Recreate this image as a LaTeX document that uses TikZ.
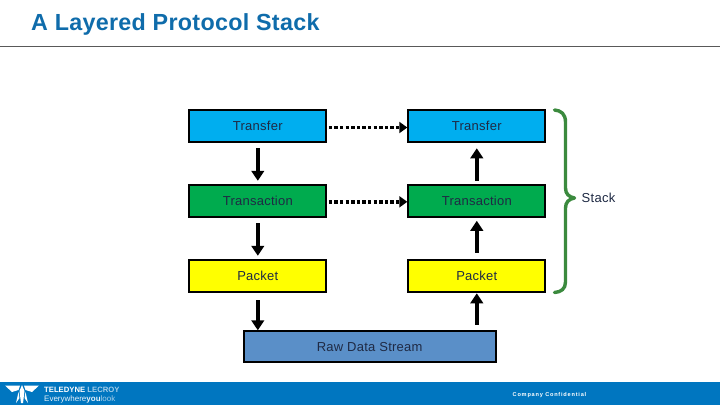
\documentclass[tikz,border=0pt]{standalone}
\usepackage{fontspec}
\setmainfont{Liberation Sans}
\newfontfamily\spaced[LetterSpace=2]{Liberation Sans}
\newfontfamily\wide[LetterSpace=14]{Liberation Sans}
\newfontfamily\titlefont[LetterSpace=1.3]{Liberation Sans}
\definecolor{cblue}{HTML}{00AEEF}
\definecolor{cgreen}{HTML}{00AB4E}
\definecolor{cyell}{HTML}{FFFF00}
\definecolor{craw}{HTML}{5A8FC8}
\definecolor{cbrace}{HTML}{3B8A3E}
\definecolor{cfoot}{HTML}{0076C0}
\definecolor{ctitle}{HTML}{0F6CAB}
\definecolor{ctext}{HTML}{1F2A44}
\usetikzlibrary{arrows.meta}
\tikzset{
  layerbox/.style={draw=black,line width=2pt,minimum width=137pt,minimum height=32pt,inner sep=0pt,font=\spaced\fontsize{13}{15}\selectfont,text=ctext,anchor=north west},
  solidarrow/.style={line width=3.8pt,-{Triangle[length=10pt,width=12.5pt]}},
  dotarrow/.style={line width=3.8pt,dash pattern=on 3.4pt off 2.2pt,-{Triangle[length=8pt,width=11pt]}},
}
\begin{document}
\begin{tikzpicture}[x=1pt,y=-1pt]
\useasboundingbox (0,0) rectangle (720,405);
\fill[white] (0,0) rectangle (720,405);
\node[anchor=base west,inner sep=0pt,text=ctitle,font=\titlefont\bfseries\fontsize{23.3}{26}\selectfont] (title) at (31,30.7) {A Layered Protocol Stack};
\coordinate (ruleL) at (0,46.3);
\coordinate (ruleR) at (720,46.3);
\draw[black!65,line width=0.9pt] (ruleL) -- (ruleR);
% layers
\node[layerbox,fill=cblue] (t1) at (188.3,109.3) {Transfer};
\node[layerbox,fill=cblue] (t2) at (407.3,109.3) {Transfer};
\node[layerbox,fill=cgreen] (a1) at (188.3,184.3) {Transaction};
\node[layerbox,fill=cgreen] (a2) at (407.3,184.3) {Transaction};
\node[layerbox,fill=cyell] (p1) at (188.3,259.3) {Packet};
\node[layerbox,fill=cyell] (p2) at (407.3,259.3) {Packet};
\node[layerbox,fill=craw,minimum width=252pt,minimum height=31pt] (r) at (242.7,330.3) {Raw Data Stream};
% arrows
\draw[solidarrow,shorten <=5pt,shorten >=3.5pt] (t1.south) -- (a1.north);
\draw[solidarrow,shorten <=5pt,shorten >=3.5pt] (a1.south) -- (p1.north);
\draw[solidarrow,shorten <=7pt,shorten >=0pt] (p1.south) -- (p1.south |- r.north);
\draw[solidarrow,shorten <=3.5pt,shorten >=5pt] (a2.north) -- (t2.south);
\draw[solidarrow,shorten <=6.5pt,shorten >=2.5pt] (p2.north) -- (a2.south);
\draw[solidarrow,shorten <=5.5pt,shorten >=0pt] (r.north -| p2.south) -- (p2.south);
\draw[dotarrow,shorten <=1.5pt,shorten >=0pt] ([yshift=-1.2pt]t1.east) -- ([yshift=-1.2pt]t2.west);
\draw[dotarrow,shorten <=1.5pt,shorten >=0pt] ([yshift=-0.5pt]a1.east) -- ([yshift=-0.5pt]a2.west);
% brace
\draw[cbrace,line width=3.4pt,line cap=round,line join=round]
  (554.5,110) .. controls (561,110.5) and (565.5,114) .. (565.5,122)
  -- (565.5,188) .. controls (565.5,194) and (569,197) .. (574.5,198)
  .. controls (569,199) and (565.5,202) .. (565.5,208)
  -- (565.5,282) .. controls (565.5,289) and (561,292) .. (554.5,292.5);
\node[anchor=base,inner sep=0pt,font=\spaced\fontsize{13}{15}\selectfont,text=ctext] (stack) at (598.5,202) {Stack};
% footer
\fill[cfoot] (0,382) rectangle (720,405);
\fill[white] (5,385.5) -- (20,385.5) -- (18.5,390) -- (12,392) -- cycle;
\fill[white] (39,385.5) -- (24,385.5) -- (25.5,390) -- (32,392) -- cycle;
\fill[white] (19.5,391) -- (22,385) -- (24.5,391) -- (23,403) -- (21,403) -- cycle;
\fill[white] (18.5,392) -- (19.5,398) -- (16,403) -- cycle;
\fill[white] (25.5,392) -- (24.5,398) -- (28,403) -- cycle;
\node[anchor=base west,inner sep=0pt,text=white,font=\bfseries\fontsize{7.7}{10}\selectfont] (brand) at (44,392) {TELEDYNE \textcolor{white!65!cfoot}{LECROY}};
\node[anchor=base west,inner sep=0pt,text=white!90!cfoot,font=\fontsize{8}{10}\selectfont] (tag) at (44,401.5) {Everywhere\textbf{you}\textcolor{white!65!cfoot}{look}};
\node[anchor=base west,inner sep=0pt,text=white,font=\wide\bfseries\fontsize{5.6}{7}\selectfont] (conf) at (512.5,396.5) {Company Confidential};
\end{tikzpicture}
\end{document}
